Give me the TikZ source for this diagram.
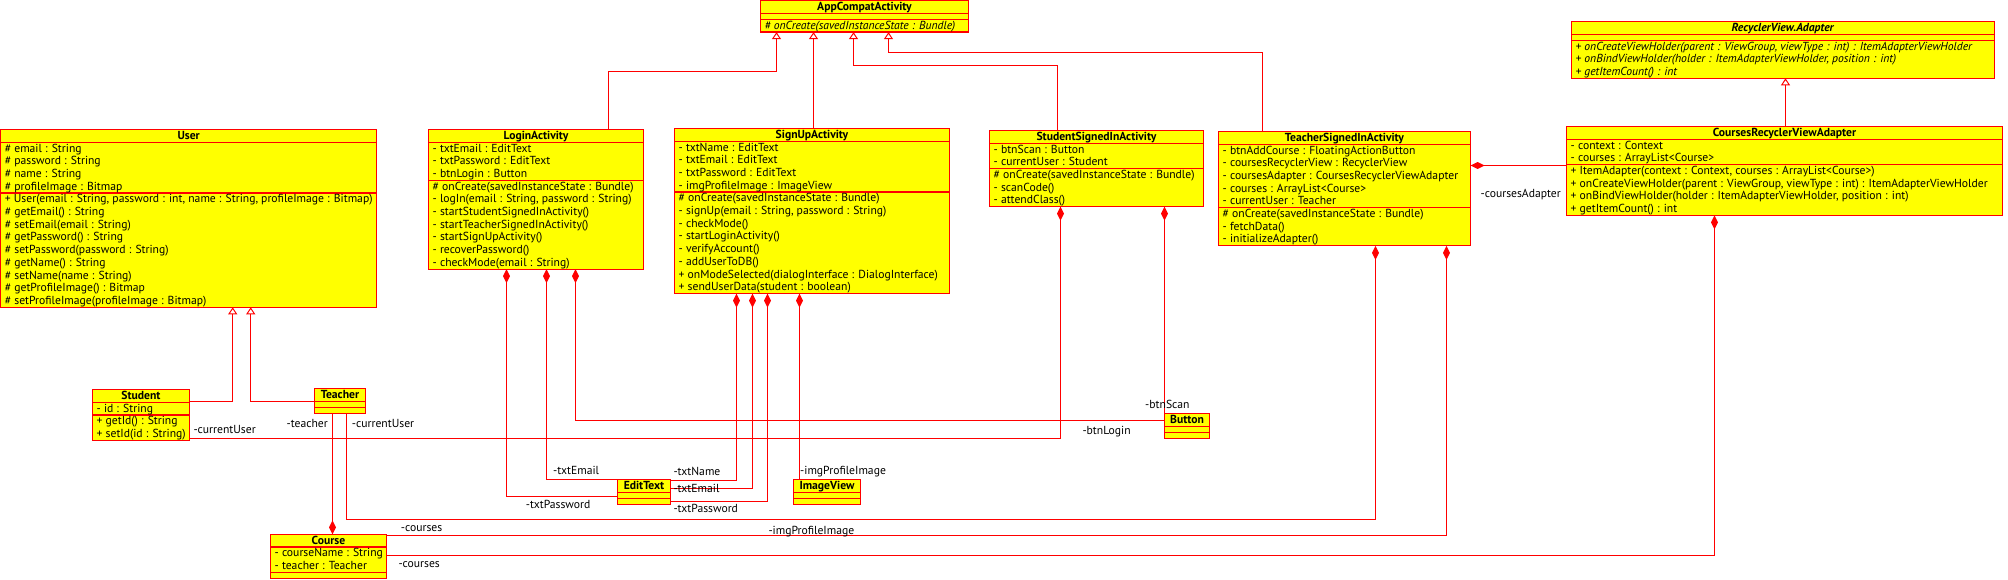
\documentclass[tikz,border=0pt]{standalone}
\usepackage{fontspec}
\usetikzlibrary{arrows.meta,calc}
\newfontfamily\uf{PT Sans}
\definecolor{umlred}{RGB}{255,0,0}
\definecolor{umlyel}{RGB}{255,255,0}
\newlength\ufsize
\tikzset{
  umlbox/.style={rectangle, draw=umlred, fill=umlyel, line width=1.3pt, inner sep=0pt, outer sep=0pt},
  umlsep/.style={draw=umlred, line width=1.3pt},
  umltext/.style={anchor=base west, inner sep=0pt, font=\uffont, text=black},
  umltitle/.style={anchor=base, inner sep=0pt, font=\uffont\bfseries, text=black},
  lbl/.style={anchor=base west, inner sep=0pt, font=\uffont, text=black},
  inh/.style={draw=umlred, line width=1.3pt, -{Triangle[length=7pt, width=9pt, fill=white, line width=1pt]}},
  comp/.style={draw=umlred, line width=1.3pt, {Diamond[length=14pt, width=7pt, fill=umlred]}-},
}
% #1 name, #2 x, #3 top, #4 width, #5 title, #6 n attrs, #7 attrs, #8 n methods, #9 methods
\newcommand\umlclass[9]{%
  \pgfmathsetmacro\ha{(#6==0) ? 6 : #6*12.7}%
  \pgfmathsetmacro\hm{(#8==0) ? 6 : #8*12.7}%
  \pgfmathsetmacro\hh{12.7+\ha+\hm}%
  \node[umlbox, minimum width=#4pt, minimum height=\hh pt, anchor=north west] (#1) at (#2,#3) {};
  \draw[umlsep] ($(#1.north west)+(0,12.7)$) -- ($(#1.north east)+(0,12.7)$);
  \draw[umlsep] ($(#1.north west)+(0,12.7+\ha)$) -- ($(#1.north east)+(0,12.7+\ha)$);
  \node[umltitle] (#1-t) at ($(#1.north)+(0,10)$) {#5};
  \ifnum#6>0
    \foreach \mline [count=\mi] in {#7} {\node[umltext] (#1-a\mi) at ($(#1.north west)+(4,12.7+\mi*12.7-2.9)$) {\mline};}
  \fi
  \ifnum#8>0
    \foreach \mline [count=\mi] in {#9} {\node[umltext] (#1-m\mi) at ($(#1.north west)+(4,12.7+\ha+\mi*12.7-2.9)$) {\mline};}
  \fi
}
\begin{document}
\setbox0=\hbox{\uf\fontsize{10pt}{12pt}\selectfont + User(email : String, password : int, name : String, profileImage : Bitmap)}%
\ufsize=\dimexpr 10pt*24091033/\number\wd0\relax
\edef\uffont{\noexpand\uf\noexpand\fontsize{\the\ufsize}{12.7pt}\noexpand\selectfont}%
\begin{tikzpicture}[x=1pt, y=-1pt]
\useasboundingbox (0,0) rectangle (2008,579);

\umlclass{appc}{760.5}{0.7}{208}{AppCompatActivity}{0}{}{1}{\textit{\# onCreate(savedInstanceState : Bundle)}}
\umlclass{rva}{1571.5}{21.5}{423}{\textit{RecyclerView.Adapter}}{0}{}{3}{\textit{+ onCreateViewHolder(parent : ViewGroup, viewType : int) : ItemAdapterViewHolder}, \textit{+ onBindViewHolder(holder : ItemAdapterViewHolder, position : int)}, \textit{+ getItemCount() : int}}
\umlclass{user}{0.7}{129.5}{376}{User}{4}{\# email : String, \# password : String, \# name : String, \# profileImage : Bitmap}{9}{{+ User(email : String, password : int, name : String, profileImage : Bitmap)}, \# getEmail() : String, \# setEmail(email : String), \# getPassword() : String, \# setPassword(password : String), \# getName() : String, \# setName(name : String), \# getProfileImage() : Bitmap, \# setProfileImage(profileImage : Bitmap)}
\umlclass{login}{428.5}{129.5}{215}{LoginActivity}{3}{- txtEmail : EditText, - txtPassword : EditText, - btnLogin : Button}{7}{\# onCreate(savedInstanceState : Bundle), {- logIn(email : String, password : String)}, - startStudentSignedInActivity(), - startTeacherSignedInActivity(), - startSignUpActivity(), - recoverPassword(), - checkMode(email : String)}
\umlclass{signup}{674.5}{128.5}{275}{SignUpActivity}{4}{- txtName : EditText, - txtEmail : EditText, - txtPassword : EditText, - imgProfileImage : ImageView}{8}{\# onCreate(savedInstanceState : Bundle), {- signUp(email : String, password : String)}, - checkMode(), - startLoginActivity(), - verifyAccount(), - addUserToDB(), + onModeSelected(dialogInterface : DialogInterface), + sendUserData(student : boolean)}
\umlclass{ssi}{989.5}{130.5}{214}{StudentSignedInActivity}{2}{- btnScan : Button, - currentUser : Student}{3}{\# onCreate(savedInstanceState : Bundle), - scanCode(), - attendClass()}
\umlclass{tsi}{1218.5}{131.5}{252}{TeacherSignedInActivity}{5}{- btnAddCourse : FloatingActionButton, - coursesRecyclerView : RecyclerView, - coursesAdapter : CoursesRecyclerViewAdapter, - courses : ArrayList<Course>, - currentUser : Teacher}{3}{\# onCreate(savedInstanceState : Bundle), - fetchData(), - initializeAdapter()}
\umlclass{crva}{1566.5}{126.5}{436}{CoursesRecyclerViewAdapter}{2}{- context : Context, - courses : ArrayList<Course>}{4}{{+ ItemAdapter(context : Context, courses : ArrayList<Course>)}, {+ onCreateViewHolder(parent : ViewGroup, viewType : int) : ItemAdapterViewHolder}, {+ onBindViewHolder(holder : ItemAdapterViewHolder, position : int)}, + getItemCount() : int}
\umlclass{student}{92.5}{389.5}{97}{Student}{1}{- id : String}{2}{+ getId() : String, + setId(id : String)}
\umlclass{teacher}{314.5}{388.5}{51}{Teacher}{0}{}{0}{}
\umlclass{button}{1164.5}{413.5}{45}{Button}{0}{}{0}{}
\umlclass{edittext}{617.5}{479.5}{53}{EditText}{0}{}{0}{}
\umlclass{imageview}{793.5}{479.5}{67}{ImageView}{0}{}{0}{}
\umlclass{course}{270.5}{534.3}{116}{Course}{2}{- courseName : String, - teacher : Teacher}{0}{}

% generalisations
\draw[inh] ($(login.north west)+(180,0)$) -- ++(0,-58) -| ($(appc.south west)+(16,0)$);
\draw[inh] ($(signup.north west)+(139,0)$) -- ($(appc.south west)+(53,0)$);
\draw[inh] ($(ssi.north west)+(68,0)$) -- ++(0,-65) -| ($(appc.south west)+(93,0)$);
\draw[inh] ($(tsi.north west)+(44,0)$) -- ++(0,-79) -| ($(appc.south west)+(128,0)$);
\draw[inh] ($(crva.north west)+(219,0)$) -- ($(rva.south west)+(214,0)$);
\draw[inh] ($(student.north east)+(0,12)$) -| ($(user.south west)+(232,0)$);
\draw[inh] ($(teacher.north west)+(0,13)$) -| ($(user.south west)+(250,0)$);

% compositions
\draw[comp] ($(login.south west)+(78,0)$) |- ($(edittext.north west)+(0,17)$);
\draw[comp] ($(login.south west)+(118,0)$) |- (edittext.north west);
\draw[comp] ($(login.south west)+(147,0)$) |- ($(button.north west)+(0,7)$);
\draw[comp] ($(signup.south west)+(62,0)$) |- ($(edittext.north east)+(0,1)$);
\draw[comp] ($(signup.south west)+(78,0)$) |- ($(edittext.north east)+(0,9)$);
\draw[comp] ($(signup.south west)+(93,0)$) |- ($(edittext.north east)+(0,22)$);
\draw[comp] ($(signup.south west)+(125,0)$) -- ($(imageview.north west)+(6,0)$);
\draw[comp] ($(ssi.south west)+(71,0)$) |- ($(student.north east)+(0,49)$);
\draw[comp] ($(ssi.south west)+(175,0)$) -- (button.north west);
\draw[comp] ($(tsi.south west)+(157,0)$) -- ++(0,273.7) -| ($(teacher.south west)+(32,0)$);
\draw[comp] ($(tsi.south west)+(228,0)$) |- ($(course.north east)+(0,1)$);
\draw[comp] ($(crva.south west)+(148,0)$) |- ($(course.north east)+(0,21)$);
\draw[comp] ($(course.north west)+(62,0)$) -- ($(teacher.south west)+(18,0)$);
\draw[comp] ($(tsi.north east)+(0,34)$) -- ($(crva.north west)+(0,39)$);

% role labels
\node[lbl] (l1) at (193.3,433) {-currentUser};
\node[lbl, anchor=base east] (l2) at (328,427.8) {-teacher};
\node[lbl] (l3) at (351.7,427.8) {-currentUser};
\node[lbl] (l4) at (400.7,531.8) {-courses};
\node[lbl] (l5) at (398.3,567) {-courses};
\node[lbl] (l6) at (553,474.8) {-txtEmail};
\node[lbl] (l7) at (525.7,508.8) {-txtPassword};
\node[lbl] (l8) at (673.3,475.8) {-txtName};
\node[lbl] (l9) at (673.3,492) {-txtEmail};
\node[lbl] (l10) at (673.3,512.8) {-txtPassword};
\node[lbl] (l11) at (800,474.8) {-imgProfileImage};
\node[lbl] (l12) at (768.3,534.8) {-imgProfileImage};
\node[lbl] (l13) at (1145,408.8) {-btnScan};
\node[lbl] (l14) at (1082.3,434) {-btnLogin};
\node[lbl, anchor=base east] (l15) at (1561,197.8) {-coursesAdapter};
\end{tikzpicture}
\end{document}
